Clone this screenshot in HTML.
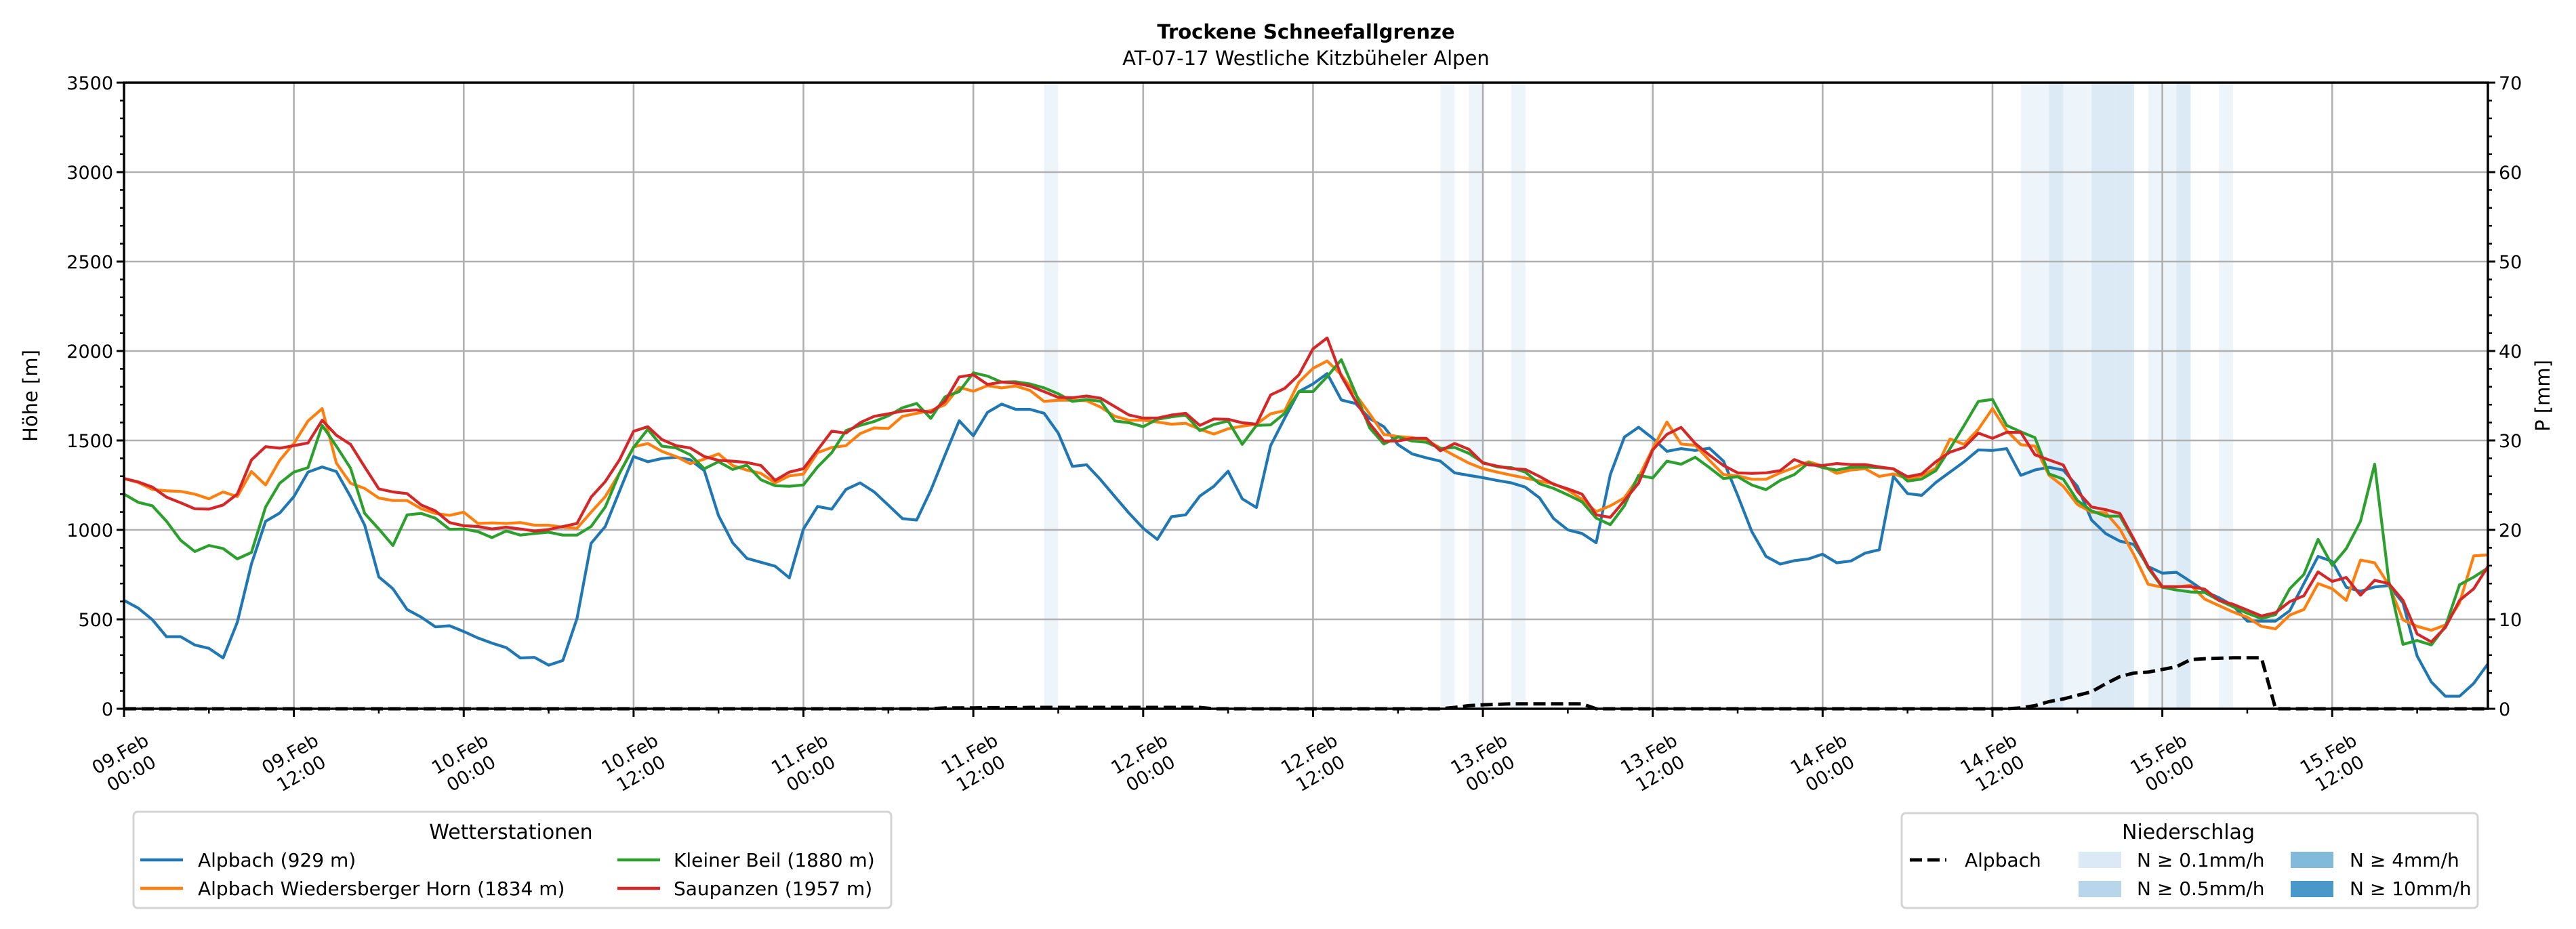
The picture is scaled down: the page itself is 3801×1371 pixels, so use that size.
<!DOCTYPE html>
<html><head><meta charset="utf-8">
<style>
html,body{margin:0;padding:0;background:#fff;}
svg{display:block;font-family:"DejaVu Sans","Liberation Sans",sans-serif;}
</style></head>
<body>
<svg id="chart" width="3801" height="1371" viewBox="0 0 3801 1371" xmlns="http://www.w3.org/2000/svg">
<rect x="0" y="0" width="3801" height="1371" fill="#fff"/>
<text x="1927" y="57" text-anchor="middle" font-size="29" font-weight="bold">Trockene Schneefallgrenze</text>
<text x="1927" y="96" text-anchor="middle" font-size="29">AT-07-17 Westliche Kitzbüheler Alpen</text>
<g id="bands"></g>
<g id="grid"></g>
<g id="series"></g>
<g id="axes"></g>
<text transform="translate(55,584) rotate(-90)" text-anchor="middle" font-size="29">Höhe [m]</text>
<text transform="translate(3762,584) rotate(-90)" text-anchor="middle" font-size="29">P [mm]</text>

<g>
<rect x="197" y="1198" width="1118" height="142" rx="6" fill="#fff" stroke="#d4d4d4" stroke-width="3"/>
<text x="754" y="1238" text-anchor="middle" font-size="30">Wetterstationen</text>
<g><line x1="207" y1="1269" x2="270" y2="1269" stroke="#1f77b4" stroke-width="4.5"/><text x="292" y="1279" font-size="28">Alpbach (929 m)</text></g>
<g><line x1="207" y1="1311" x2="270" y2="1311" stroke="#ff7f0e" stroke-width="4.5"/><text x="292" y="1321" font-size="28">Alpbach Wiedersberger Horn (1834 m)</text></g>
<g><line x1="911" y1="1269" x2="974" y2="1269" stroke="#2ca02c" stroke-width="4.5"/><text x="994" y="1279" font-size="28">Kleiner Beil (1880 m)</text></g>
<g><line x1="911" y1="1311" x2="974" y2="1311" stroke="#d62728" stroke-width="4.5"/><text x="994" y="1321" font-size="28">Saupanzen (1957 m)</text></g>
</g>

<g>
<rect x="2806" y="1200" width="850" height="140" rx="6" fill="#fff" stroke="#d4d4d4" stroke-width="3"/>
<text x="3229" y="1238" text-anchor="middle" font-size="30">Niederschlag</text>
<g><line x1="2818" y1="1269" x2="2872" y2="1269" stroke="#000" stroke-width="5" stroke-dasharray="18,8"/><text x="2899" y="1279" font-size="28">Alpbach</text></g>
<g><rect x="3067" y="1257" width="63" height="24" fill="#dbe9f6"/><text x="3153" y="1279" font-size="28">N ≥ 0.1mm/h</text></g>
<g><rect x="3067" y="1300" width="63" height="24" fill="#b8d5ea"/><text x="3153" y="1321" font-size="28">N ≥ 0.5mm/h</text></g>
<g><rect x="3380" y="1257" width="63" height="24" fill="#82badb"/><text x="3467" y="1279" font-size="28">N ≥ 4mm/h</text></g>
<g><rect x="3380" y="1300" width="63" height="24" fill="#4a98c9"/><text x="3467" y="1321" font-size="28">N ≥ 10mm/h</text></g>
</g>
</svg>
<script>
const hoursTotal = 167;
const alpbach = [606,563,498,403,403,357,338,284,483,809,1048,1094,1186,1323,1352,1326,1186,1026,737,671,555,512,458,464,432,396,367,342,284,287,244,270,505,925,1019,1215,1410,1381,1399,1406,1392,1331,
1080,928,841,819,797,732,1005,1131,1116,1226,1263,1212,1138,1063,1055,1222,1418,1610,1526,1657,1703,1674,1674,1652,1541,1355,1364,1280,1186,1094,1009,947,1074,1084,1189,1244,1328,1174,1125,1471,1625,1773,
1816,1874,1726,1707,1623,1577,1476,1425,1403,1384,1319,1305,1292,1276,1263,1239,1179,1063,1000,980,928,1309,1519,1574,1512,1439,1454,1444,1457,1384,1193,990,852,809,828,838,864,816,826,870,889,1299,
1203,1193,1265,1323,1381,1447,1444,1454,1305,1335,1350,1334,1244,1055,979,937,918,795,758,763,711,657,621,577,490,490,490,548,700,852,824,679,657,681,689,592,295,150,70,70,142,251];
const wiedersberger = [1287,1265,1226,1218,1215,1200,1174,1212,1186,1326,1251,1389,1483,1609,1678,1374,1261,1232,1178,1164,1164,1118,1092,1081,1099,1036,1039,1036,1041,1026,1026,1015,1009,1099,1186,1316,1464,1483,1439,1410,1370,1396,
1425,1360,1334,1316,1263,1302,1312,1432,1461,1471,1538,1570,1567,1635,1652,1667,1700,1797,1775,1806,1794,1804,1780,1718,1725,1725,1722,1686,1635,1613,1613,1603,1591,1596,1562,1536,1565,1580,1591,1649,1667,1826,
1903,1944,1867,1758,1649,1534,1522,1516,1502,1458,1415,1374,1342,1323,1306,1290,1273,1258,1222,1171,1102,1135,1179,1294,1454,1603,1480,1473,1389,1309,1302,1283,1283,1319,1348,1381,1357,1316,1335,1342,1299,1313,
1287,1302,1345,1508,1478,1562,1678,1555,1476,1468,1305,1244,1142,1099,1096,1005,860,696,679,681,690,613,577,541,512,461,447,524,555,700,671,606,831,816,693,497,461,439,468,592,855,860];
const kleinerBeil = [1200,1154,1135,1048,942,879,913,896,838,874,1128,1261,1323,1348,1584,1468,1345,1092,1005,913,1084,1092,1065,1003,1005,990,957,994,971,980,987,971,971,1019,1128,1316,1461,1562,1468,1458,1420,1342,
1381,1338,1362,1280,1247,1244,1251,1352,1432,1555,1584,1606,1638,1683,1707,1623,1744,1773,1878,1860,1826,1828,1816,1794,1761,1718,1729,1719,1609,1599,1577,1618,1632,1642,1555,1589,1609,1478,1584,1587,1652,1773,
1773,1857,1951,1765,1570,1480,1519,1497,1490,1454,1461,1428,1377,1352,1348,1323,1258,1232,1196,1157,1066,1029,1135,1305,1290,1384,1367,1406,1348,1287,1297,1251,1225,1276,1309,1374,1348,1334,1350,1352,1348,1342,
1273,1284,1331,1454,1584,1718,1729,1584,1548,1516,1313,1284,1164,1106,1077,1077,939,787,679,664,653,650,606,570,534,505,526,671,751,947,802,896,1048,1367,715,360,382,357,461,693,736,787];
const saupanzen = [1287,1268,1239,1183,1152,1118,1116,1139,1200,1391,1465,1457,1471,1486,1613,1529,1478,1352,1229,1212,1203,1139,1106,1041,1023,1019,1005,1015,1005,994,1002,1019,1036,1183,1270,1391,1551,1577,1505,1471,1458,1410,
1389,1384,1377,1360,1277,1323,1342,1447,1552,1541,1599,1635,1649,1664,1671,1657,1719,1855,1867,1813,1826,1820,1804,1773,1741,1739,1748,1736,1689,1642,1625,1625,1642,1652,1584,1620,1618,1599,1591,1754,1791,1867,
2012,2073,1860,1722,1594,1497,1497,1512,1512,1442,1483,1451,1374,1357,1342,1338,1299,1255,1229,1200,1084,1070,1164,1261,1447,1534,1573,1483,1418,1360,1319,1316,1319,1331,1393,1363,1360,1371,1365,1365,1352,1341,
1297,1313,1381,1435,1461,1541,1512,1545,1545,1420,1391,1363,1215,1128,1113,1092,947,795,683,683,683,668,606,584,552,519,537,599,632,765,712,734,635,718,700,606,418,374,455,606,671,795];
const precipCum = [0,0,0,0,0,0,0,0,0,0,0,0,0,0,0,0,0,0,0,0,0,0,0,0,0,0,0,0,0,0,0,0,0,0,0,0,0,0,0,0,0,0,
0,0,0,0,0,0,0,0,0,0,0,0,0,0,0,0,0.1,0.1,0.1,0.12,0.12,0.12,0.15,0.15,0.15,0.15,0.15,0.15,0.15,0.15,0.15,0.15,0.15,0.15,0.15,0,0,0,0,0,0,0,
0,0,0,0,0,0,0,0,0,0,0.15,0.35,0.45,0.5,0.55,0.55,0.55,0.55,0.55,0.55,0,0,0,0,0,0,0,0,0,0,0,0,0,0,0,0,0,0,0,0,0,0,
0,0,0,0,0,0,0,0,0.1,0.35,0.8,1.1,1.5,1.9,2.8,3.6,4.0,4.1,4.4,4.7,5.5,5.6,5.65,5.7,5.7,5.7,0,0,0,0,0,0,0,0,0,0,0,0,0,0,0,0];
const bandHours = [65,93,95,98,134,135,136,137,138,139,140,141,143,144,145,148];
const bandRates = [0.2,0.2,0.2,0.2,0.2,0.2,0.7,0.2,0.2,0.7,0.7,0.7,0.2,0.2,0.7,0.2];
const yTicks = [0,500,1000,1500,2000,2500,3000,3500];
const y2Ticks = [0,10,20,30,40,50,60,70];
const xTickLabels = [["09.Feb","00:00"],["09.Feb","12:00"],["10.Feb","00:00"],["10.Feb","12:00"],["11.Feb","00:00"],["11.Feb","12:00"],["12.Feb","00:00"],["12.Feb","12:00"],["13.Feb","00:00"],["13.Feb","12:00"],["14.Feb","00:00"],["14.Feb","12:00"],["15.Feb","00:00"],["15.Feb","12:00"]];

const L=183,R=3671,T=122,B=1046;
const X=h=>L+(R-L)*h/hoursTotal;
const Y=v=>B-(B-T)*v/3500;
const Y2=p=>B-(B-T)*p/70;
const NS="http://www.w3.org/2000/svg";
function mk(tag,attrs,parent){const e=document.createElementNS(NS,tag);for(const k in attrs)e.setAttribute(k,attrs[k]);parent.appendChild(e);return e;}
const gB=document.getElementById('bands'),gG=document.getElementById('grid'),gS=document.getElementById('series'),gA=document.getElementById('axes');

bandHours.forEach((h,i)=>{
  const r=bandRates[i];
  const col=r>=10?'#4a98c9':r>=4?'#82badb':r>=0.5?'#b8d5ea':'#dbe9f6';
  const e=mk('rect',{x:X(h),y:T,width:X(h+1)-X(h),height:B-T,fill:col,'fill-opacity':0.5},gB);
  
  
});
yTicks.forEach(v=>{
  const e=mk('line',{x1:L,x2:R,y1:Y(v),y2:Y(v),stroke:'#b0b0b0','stroke-width':2.6},gG);
  
  
});
xTickLabels.forEach((lab,i)=>{
  const e=mk('line',{x1:X(i*12),x2:X(i*12),y1:T,y2:B,stroke:'#b0b0b0','stroke-width':2.6},gG);
  
  
});
function pathOf(arr,fy){return arr.map((v,i)=>(i?'L':'M')+X(i).toFixed(1)+','+fy(v).toFixed(1)).join('');}
const pp=mk('path',{d:pathOf(precipCum,Y2),fill:'none',stroke:'#000','stroke-width':5,'stroke-dasharray':'18,8'},gS);


[[alpbach,'#1f77b4','line-alpbach'],[wiedersberger,'#ff7f0e','line-wiedersberger'],[kleinerBeil,'#2ca02c','line-kleiner-beil'],[saupanzen,'#d62728','line-saupanzen']].forEach(s=>{
  const e=mk('path',{d:pathOf(s[0],Y),fill:'none',stroke:s[1],'stroke-width':4.2,'stroke-linejoin':'round'},gS);
  
  
});
mk('rect',{x:L,y:T,width:R-L,height:B-T,fill:'none',stroke:'#000','stroke-width':3.5},gA);
yTicks.forEach(v=>{
  mk('line',{x1:L-11,x2:L,y1:Y(v),y2:Y(v),stroke:'#000','stroke-width':3},gA);
  const t=mk('text',{x:L-16,y:Y(v)+10,'text-anchor':'end','font-size':27},gA);
  t.textContent=v;
  
  
});
for(let v=100;v<3500;v+=100){if(v%500)mk('line',{x1:L-6,x2:L,y1:Y(v),y2:Y(v),stroke:'#000','stroke-width':2.5},gA);}
y2Ticks.forEach(p=>{
  mk('line',{x1:R,x2:R+11,y1:Y2(p),y2:Y2(p),stroke:'#000','stroke-width':3},gA);
  const t=mk('text',{x:R+16,y:Y2(p)+10,'text-anchor':'start','font-size':27},gA);
  t.textContent=p;
  
  
});
for(let p=2;p<70;p+=2){if(p%10)mk('line',{x1:R,x2:R+6,y1:Y2(p),y2:Y2(p),stroke:'#000','stroke-width':2.5},gA);}
for(let h=6;h<hoursTotal;h+=12)mk('line',{x1:X(h),x2:X(h),y1:B,y2:B+7,stroke:'#000','stroke-width':2.5},gA);
xTickLabels.forEach((lab,i)=>{
  const x=X(i*12);
  mk('line',{x1:x,x2:x,y1:B,y2:B+12,stroke:'#000','stroke-width':3},gA);
  const t=mk('text',{transform:`translate(${x+2},1126) rotate(-30)`,'text-anchor':'middle','font-size':27},gA);
  
  
  const a=mk('tspan',{x:0,y:-6},t);a.textContent=lab[0];
  const b=mk('tspan',{x:0,y:27},t);b.textContent=lab[1];
});
</script>
</body></html>
